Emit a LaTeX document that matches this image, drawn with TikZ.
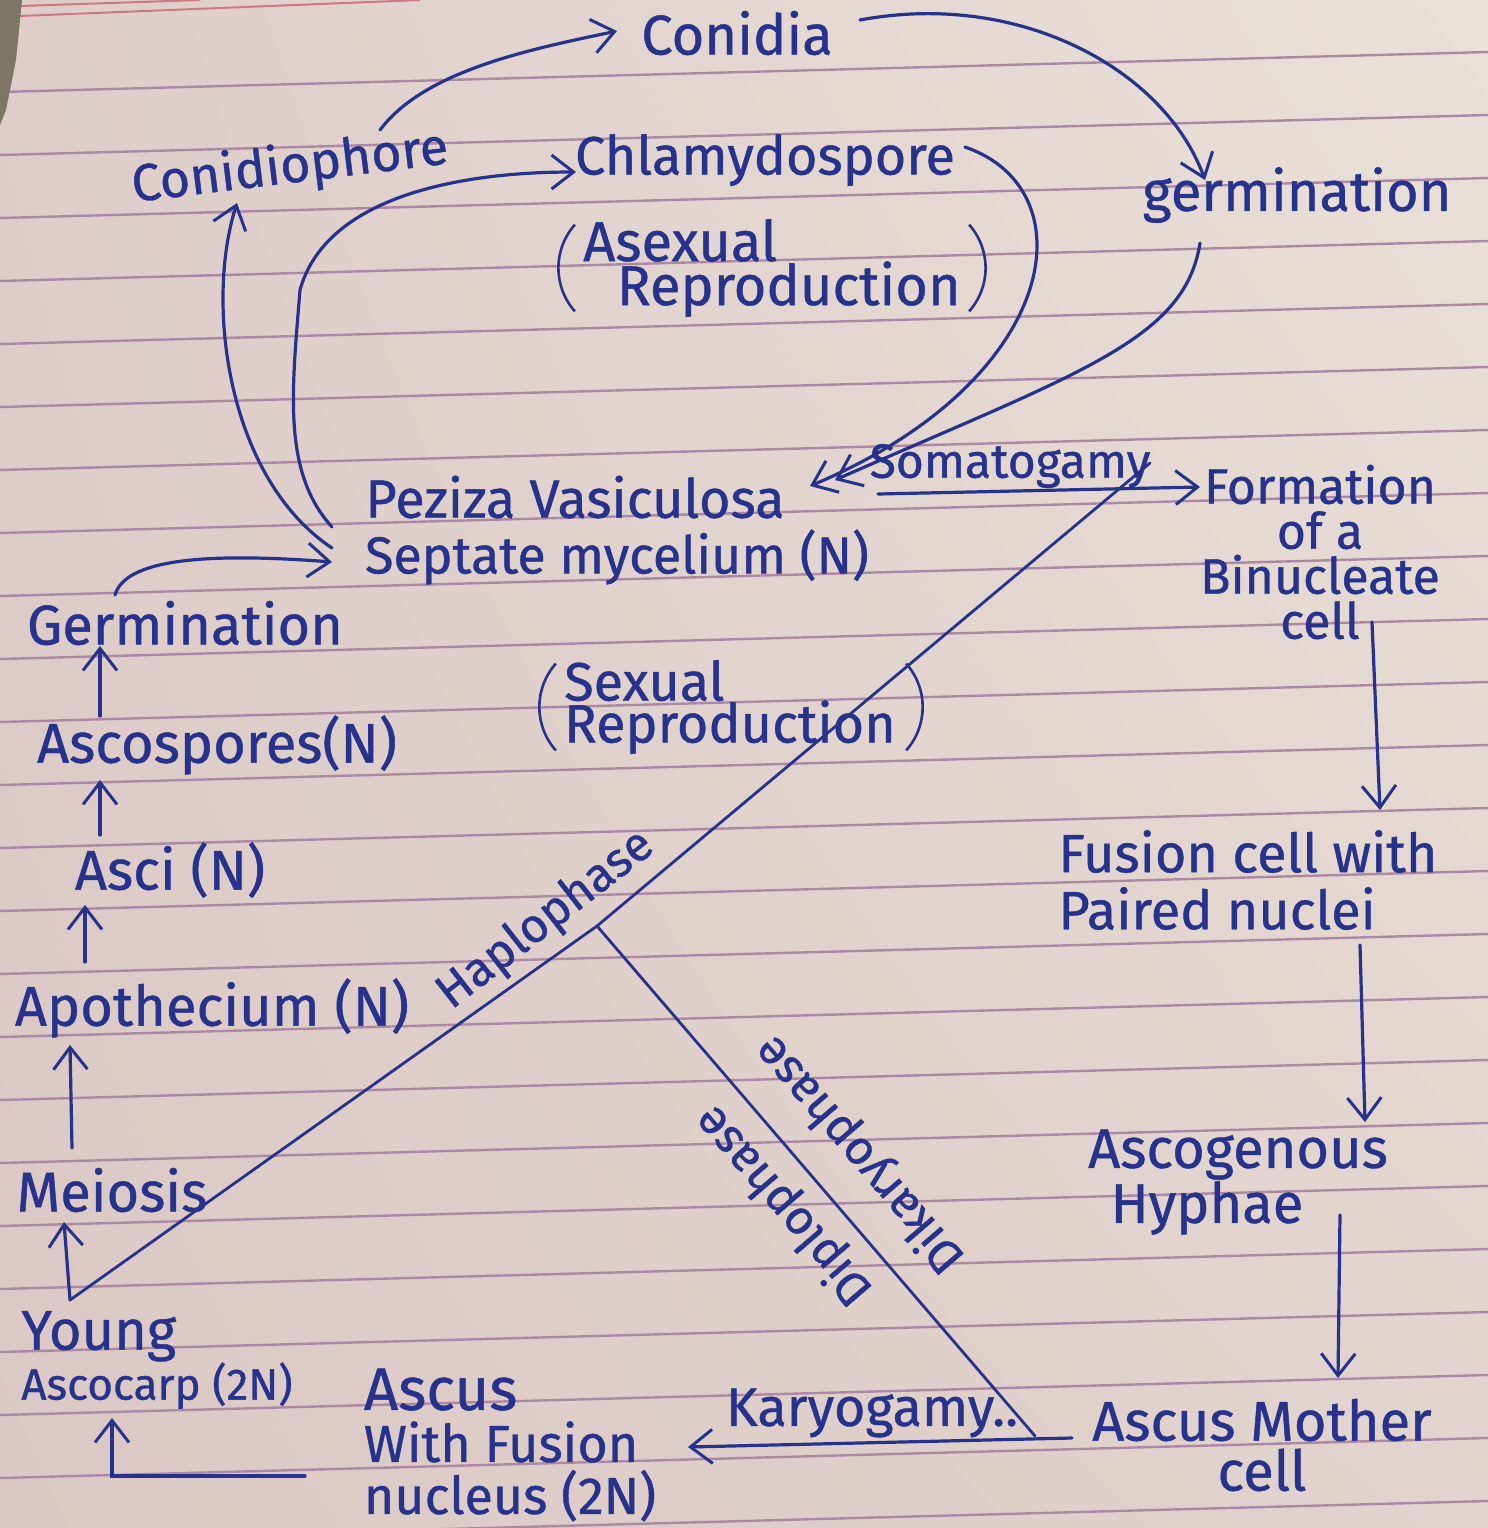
\documentclass[tikz,border=0pt]{standalone}
\usepackage{fontspec}
\setmainfont{Fira Sans}[FakeBold=0.8]
\usetikzlibrary{arrows.meta,calc,shadings}
\definecolor{ink}{RGB}{38,50,140}
\definecolor{rulec}{RGB}{172,136,165}
\definecolor{redrule}{RGB}{205,120,130}
\definecolor{bind}{RGB}{125,118,100}
\definecolor{pUL}{RGB}{222,205,201}
\definecolor{pUR}{RGB}{233,225,216}
\definecolor{pLL}{RGB}{219,200,196}
\definecolor{pLR}{RGB}{225,211,205}
\begin{document}
\lineskiplimit=-100pt\relax
\lineskip=0pt\relax
\begin{tikzpicture}[x=0.5pt,y=-0.5pt,
  lbl/.style={inner sep=1pt, text=ink, font=\fontsize{28}{30}\selectfont},
  fs/.style={font=\fontsize{#1}{#1}\selectfont},
  ml/.style 2 args={font=\fontsize{#1}{#2}\selectfont},
  arr/.style={draw=ink, line width=1.6pt, line cap=round,
    -{Straight Barb[length=11pt,width=17pt,line width=1.5pt]}},
  ln/.style={draw=ink, line width=1.4pt, line cap=round},
  paren/.style={draw=ink, line width=1.3pt}
]
\useasboundingbox (0,0) rectangle (1488,1528);
% paper
\shade[upper left=pUL, upper right=pUR, lower left=pLL, lower right=pLR]
  (0,0) rectangle (1488,1528);
\foreach \k in {0,...,23}
  \draw[rulec, line width=1.2pt] (0,{92+63*\k}) -- (1488,{52+63*\k});
\draw[redrule, line width=1pt] (20,16) -- (420,0);
\draw[redrule, line width=1pt] (20,6) -- (200,0);
\fill[bind] (0,0) -- (22,0) -- (16,60) -- (6,110) -- (0,125) -- cycle;

% ---------- nodes ----------
\node[lbl] (conidia) at (737,33) {Conidia};
\node[lbl,fs=26,rotate=7] (conidiophore) at (290,168) {Conidiophore};
\node[lbl,fs=27] (chlamy) at (765,160) {Chlamydospore};
\node[lbl,align=left,ml={28}{22}] (asexual) at (772,268) {Asexual\\\kern0.6em Reproduction};
\node[lbl] (germR) at (1297,195) {germination};
\node[lbl,fs=27] (peziza) at (575,497) {Peziza Vasiculosa};
\node[lbl,fs=24] (somato) at (1010,466) {Somatogamy};
\node[lbl,fs=26] (septate) at (617,557) {Septate mycelium (N)};
\node[lbl,align=center,ml={25}{22.5}] (formation) at (1320,552) {Formation\\of a\\Binucleate\\cell};
\node[lbl] (germL) at (185,623) {Germination};
\node[lbl,align=left,ml={27}{21}] (sexual) at (730,707) {Sexual\\Reproduction};
\node[lbl] (ascospores) at (217,745) {Ascospores(N)};
\node[lbl] (asci) at (170,870) {Asci (N)};
\node[lbl,align=left,ml={27}{28.5}] (fusion) at (1248,880) {Fusion cell with\\Paired nuclei};
\node[lbl] (apothecium) at (212,1008) {Apothecium (N)};
\node[lbl,fs=24,rotate=38] (haplo) at (546,920) {Haplophase};
\node[lbl,fs=24,rotate=130.7] (dikaryo) at (860,1154) {Dikaryophase};
\node[lbl,fs=24,rotate=130.7] (diplo) at (784,1205) {Diplophase};
\node[lbl,align=left,ml={28}{27.5}] (ascogenous) at (1238,1182) {Ascogenous\\\kern0.4em Hyphae};
\node[lbl] (meiosis) at (112,1190) {Meiosis};
\node[lbl,align=left,ml={28}{25}] (young) at (157,1360) {Young\\{\fontsize{22}{25}\selectfont Ascocarp (2N)}};
\node[lbl,align=left,ml={26}{26}] (ascus) at (510,1445) {{\fontsize{30}{26}\selectfont Ascus}\\With Fusion\\nucleus (2N)};
\node[lbl,fs=27] (karyo) at (872,1413) {Karyogamy..};
\node[lbl,align=center,ml={28}{25}] (mother) at (1262,1445) {Ascus Mother\\cell};

% parentheses
\draw[paren] ($(asexual.north west)+(-6,8)$) .. controls +(-22,25) and +(-22,-25) .. ($(asexual.south west)+(-6,-8)$);
\draw[paren] ($(asexual.north east)+(6,8)$) .. controls +(22,25) and +(22,-25) .. ($(asexual.south east)+(6,-8)$);
\draw[paren] ($(sexual.north west)+(-6,6)$) .. controls +(-22,25) and +(-22,-25) .. ($(sexual.south west)+(-6,-6)$);
\draw[paren] ($(sexual.north east)+(8,6)$) .. controls +(22,25) and +(22,-25) .. ($(sexual.south east)+(8,-6)$);

% ---------- connectors ----------
\draw[arr] ($(conidiophore)+(90,-38)$) .. controls +(45,-60) and +(-85,18) .. ($(conidia)+(-120,-2)$);
\draw[arr] ($(conidia)+(123,-13)$) .. controls +(160,-30) and +(-40,-110) .. ($(germR)+(-92,-15)$);
\draw[arr] ($(septate)+(-285,-9)$) .. controls +(-105,-70) and +(-32,100) .. ($(conidiophore)+(-53,35)$);
\draw[arr] ($(septate)+(-285,-30)$) .. controls +(-50,-55) and +(-8,100) .. (300,290)
           .. controls +(25,-90) and +(-125,0) .. ($(chlamy)+(-189,12)$);
\draw[arr] ($(chlamy)+(200,-13)$) .. controls +(125,43) and +(250,-105) .. ($(peziza)+(235,-11)$);
\draw[arr] ($(germR)+(-97,48)$) .. controls +(-15,97) and +(245,-108) .. ($(peziza)+(260,-17)$);
\draw[arr] ($(somato)+(-132,28)$) -- ($(formation)+(-120,-65)$);
\draw[arr] ($(germL)+(-70,-28)$) .. controls +(10,-35) and +(-130,-10) .. ($(septate)+(-285,5)$);
\draw[arr] ($(ascospores)+(-117,-29)$) -- ($(germL)+(-85,23)$);
\draw[arr] ($(asci)+(-70,-35)$) -- ($(ascospores)+(-117,35)$);
\draw[arr] ($(apothecium)+(-127,-46)$) -- ($(asci)+(-85,35)$);
\draw[arr] ($(meiosis)+(-40,-42)$) -- ($(apothecium)+(-142,37)$);
\coordinate (ybase) at ($(young)+(-87,-60)$);
\draw[arr] (ybase) -- ($(meiosis)+(-48,32)$);
\draw[arr] ($(ascus)+(-205,31)$) -- ($(young)+(-45,116)$) -- ($(young)+(-45,58)$);
\draw[arr] ($(formation)+(52,70)$) -- ($(fusion)+(132,-70)$);
\draw[arr] ($(fusion)+(112,65)$) -- ($(ascogenous)+(127,-60)$);
\draw[arr] ($(ascogenous)+(102,33)$) -- ($(mother)+(76,-67)$);
\draw[arr] ($(mother)+(-190,-7)$) -- ($(ascus)+(178,2)$);

% phase lines
\coordinate (split) at (597,926);
\coordinate (htop) at ($(somato)+(140,-3)$);
\draw[ln] (ybase) -- (split) -- (htop);
\draw[ln] (split) -- ($(mother)+(-227,-9)$);
\end{tikzpicture}
\end{document}
